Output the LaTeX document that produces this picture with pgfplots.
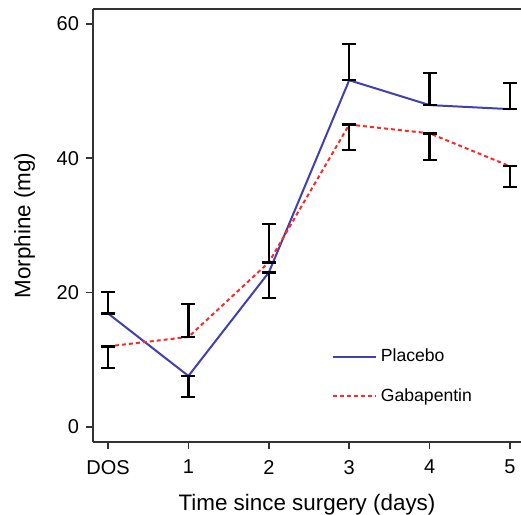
\documentclass[border=0pt]{standalone}
\usepackage{pgfplots}
\pgfplotsset{compat=1.18}
\usepackage{pgfplotstable}
\usepackage{fontspec}
\setmainfont{Liberation Sans}
\usetikzlibrary{calc}

\definecolor{placeboblue}{RGB}{64,64,176}
\definecolor{gabared}{RGB}{255,40,40}

% x: 0 = DOS, then days 1..5; ep/em = upper/lower error
\pgfplotstableread{
x y ep em
0 16.9 3.2 0
1 7.6 0 3.1
2 23.0 0 3.8
3 51.6 5.4 0
4 47.9 4.8 0
5 47.3 3.9 0
}\placebo
\pgfplotstableread{
x y ep em
0 12.0 0 3.2
1 13.4 4.9 0
2 24.5 5.7 0
3 45.0 0 3.8
4 43.7 0 4.0
5 38.8 0 3.1
}\gabapentin

\begin{document}
\begin{tikzpicture}
\begin{axis}[name=ax,
  scale only axis, width=214pt, height=216.5pt,
  xmin=-0.187, xmax=5.137, ymin=-2.23, ymax=62.2,
  axis x line=box, axis y line=left,
  axis line style={-, line width=0.75pt, black!80},
  xtick={0,1,2,3,4,5}, xticklabels={DOS,1,2,3,4,5},
  ytick={0,20,40,60},
  xtick pos=bottom, ytick pos=left, tick align=outside,
  major tick length=3.5pt,
  tick style={line width=0.75pt, black!80},
  /pgf/number format/assume math mode=true,
  ticklabel style={font=\fontsize{10}{12}\selectfont},
  xticklabel style={yshift=-2pt},
  label style={font=\fontsize{11.2}{13}\selectfont},
  xlabel={Time since surgery (days)},
  ylabel={Morphine (mg)},
  xlabel style={yshift=-3pt},
  ylabel style={yshift=4pt},
  legend style={draw=none, fill=none, at={(axis cs:2.78,12.3)}, anchor=north west,
    font=\fontsize{8.8}{10}\selectfont, row sep=8pt, inner sep=0pt},
  legend cell align=left,
  legend image code/.code={\draw[#1] (0pt,0pt) -- (21.5pt,0pt);},
  error bars/y dir=both, error bars/y explicit,
  error bars/error bar style={line width=1.2pt, black, solid},
  error bars/error mark options={rotate=90, mark size=3.5pt, line width=1.2pt, black, solid},
]
\addplot[placeboblue, line width=1pt, mark=none]
  table[x=x, y=y, y error plus=ep, y error minus=em]{\placebo};
\addlegendentry{Placebo}
\addplot[gabared, line width=1pt, dash pattern=on 2pt off 1.5pt, mark=none]
  table[x=x, y=y, y error plus=ep, y error minus=em]{\gabapentin};
\addlegendentry{Gabapentin}
\end{axis}
\pgfresetboundingbox
\path ($(ax.south west)+(-46.5pt,-36pt)$) rectangle ($(ax.north east)+(0pt,4.5pt)$);
\end{tikzpicture}
\end{document}
